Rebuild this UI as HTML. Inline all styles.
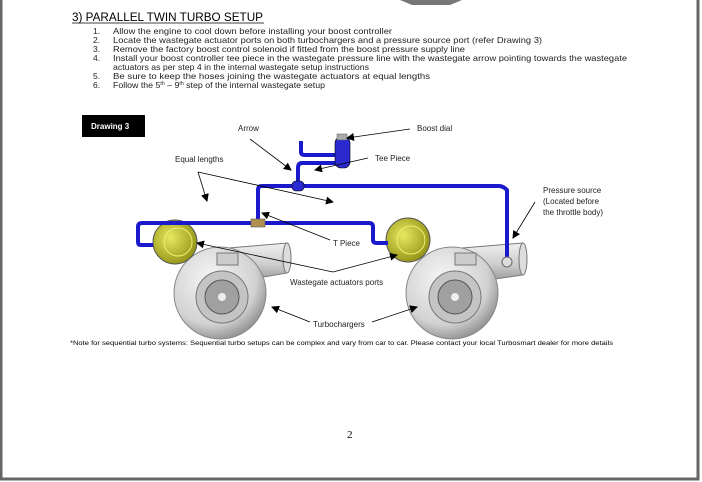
<!DOCTYPE html>
<html><head><meta charset="utf-8"><style>
html,body{margin:0;padding:0;background:#fff;}
svg{display:block;font-family:"Liberation Sans",sans-serif;}
</style></head><body>
<svg width="702" height="482" viewBox="0 0 702 482" xmlns="http://www.w3.org/2000/svg">
<defs>
<radialGradient id="g" cx="0.4" cy="0.35" r="0.7"><stop offset="0" stop-color="#f6f6f6"/><stop offset="0.7" stop-color="#d2d2d2"/><stop offset="1" stop-color="#8a8a8a"/></radialGradient>
<linearGradient id="p" x1="0" y1="0" x2="0" y2="1"><stop offset="0" stop-color="#f0f0f0"/><stop offset="0.5" stop-color="#cdcdcd"/><stop offset="1" stop-color="#8a8a8a"/></linearGradient>
<radialGradient id="y" cx="0.4" cy="0.4" r="0.7"><stop offset="0" stop-color="#e8e860"/><stop offset="1" stop-color="#8a8a10"/></radialGradient>
<marker id="a" markerWidth="8" markerHeight="8" refX="7" refY="4" orient="auto" markerUnits="userSpaceOnUse"><path d="M0,0 L8,4 L0,8 z" fill="#000"/></marker>
</defs>
<rect x="1" y="-5" width="697" height="484" fill="none" stroke="#666" stroke-width="3"/>
<path d="M400,0 L462,0 L450,5 L412,5 z" fill="#777"/>
<text x="72" y="21" font-size="11.5" textLength="191" lengthAdjust="spacingAndGlyphs">3)  PARALLEL TWIN TURBO SETUP</text>
<line x1="72" y1="23" x2="264" y2="23" stroke="#000" stroke-width="0.8"/>
<g font-size="8.5" fill="#222">
<text x="93" y="34">1.</text><text x="113" y="34" textLength="279" lengthAdjust="spacingAndGlyphs">Allow the engine to cool down before installing your boost controller</text>
<text x="93" y="43">2.</text><text x="113" y="43" textLength="429" lengthAdjust="spacingAndGlyphs">Locate the wastegate actuator ports on both turbochargers and a pressure source port (refer Drawing 3)</text>
<text x="93" y="52">3.</text><text x="113" y="52" textLength="352" lengthAdjust="spacingAndGlyphs">Remove the factory boost control solenoid if fitted from the boost pressure supply line</text>
<text x="93" y="61">4.</text><text x="113" y="61" textLength="514" lengthAdjust="spacingAndGlyphs">Install your boost controller tee piece in the wastegate pressure line with the wastegate arrow pointing towards the wastegate</text>
<text x="113" y="70" textLength="256" lengthAdjust="spacingAndGlyphs">actuators as per step 4 in the internal wastegate setup instructions</text>
<text x="93" y="79">5.</text><text x="113" y="79" textLength="317" lengthAdjust="spacingAndGlyphs">Be sure to keep the hoses joining the wastegate actuators at equal lengths</text>
<text x="93" y="88">6.</text><text x="113" y="88" textLength="212" lengthAdjust="spacingAndGlyphs">Follow the 5<tspan font-size="5" dy="-3">th</tspan><tspan dy="3"> – 9</tspan><tspan font-size="5" dy="-3">th</tspan><tspan dy="3"> step of the internal wastegate setup</tspan></text>
</g>
<rect x="82" y="115" width="63" height="22" fill="#000"/>
<text x="91" y="129" font-size="8" fill="#fff" font-weight="bold">Drawing 3</text>
<path d="M205,250 L287,243 L287,273 L210,286 z" fill="url(#p)" stroke="#777"/>
<ellipse cx="287" cy="258" rx="4" ry="15" fill="#ddd" stroke="#777"/>
<circle cx="220" cy="293" r="46" fill="url(#g)" stroke="#888"/>
<rect x="217" y="253" width="21" height="12" fill="#ccc" stroke="#777"/>
<circle cx="222" cy="297" r="26" fill="#c4c4c4" stroke="#777"/>
<circle cx="222" cy="297" r="17" fill="#a0a0a0" stroke="#555"/>
<circle cx="222" cy="297" r="4" fill="#eee"/>
<path d="M438,250 L523,243 L523,275 L445,286 z" fill="url(#p)" stroke="#777"/>
<ellipse cx="523" cy="259" rx="4" ry="16" fill="#ddd" stroke="#777"/>
<circle cx="452" cy="293" r="46" fill="url(#g)" stroke="#888"/>
<rect x="455" y="253" width="21" height="12" fill="#ccc" stroke="#777"/>
<circle cx="455" cy="297" r="26" fill="#c4c4c4" stroke="#777"/>
<circle cx="455" cy="297" r="17" fill="#a0a0a0" stroke="#555"/>
<circle cx="455" cy="297" r="4" fill="#eee"/>
<circle cx="175" cy="242" r="22" fill="url(#y)" stroke="#555"/>
<circle cx="178" cy="242" r="14" fill="none" stroke="#eeee70"/>
<circle cx="408" cy="240" r="22" fill="url(#y)" stroke="#555"/>
<circle cx="411" cy="240" r="14" fill="none" stroke="#eeee70"/>
<g fill="none" stroke="#1a1acc" stroke-width="4" stroke-linejoin="round">
<path d="M153,245 H141 Q138,245 138,242 V227 Q138,223 142,223 H369 Q373,223 373,227 V240 Q373,243 377,243 H388"/>
<path d="M258,223 V190 Q258,186 262,186 H499 Q503,186 507,190 V262"/>
<path d="M298,186 V168 Q298,163 302,163 H336"/>
<path d="M301,141 V152 Q301,155 305,155 H336"/>
</g>
<circle cx="507" cy="262" r="5" fill="#ddd" stroke="#666"/>
<rect x="292" y="181" width="12" height="10" rx="4" fill="#2a2ad0" stroke="#000" stroke-width="0.6"/>
<rect x="251" y="219" width="14" height="8" fill="#b09050" stroke="#555" stroke-width="0.6"/>
<rect x="335" y="137" width="15" height="31" rx="6" fill="#2a2ad0" stroke="#000" stroke-width="0.6"/>
<rect x="337" y="134" width="10" height="6" fill="#aaa" stroke="#555" stroke-width="0.5"/>
<g font-size="8" fill="#222">
<text x="238" y="131">Arrow</text>
<text x="417" y="131">Boost dial</text>
<text x="375" y="161">Tee Piece</text>
<text x="175" y="162">Equal lengths</text>
<text x="543" y="193">Pressure source</text>
<text x="543" y="204">(Located before</text>
<text x="543" y="215">the throttle body)</text>
<text x="333" y="246">T Piece</text>
<text x="290" y="285">Wastegate actuators ports</text>
<text x="313" y="327">Turbochargers</text>
</g>
<text x="70" y="345" font-size="6.5" textLength="543" lengthAdjust="spacingAndGlyphs">*Note for sequential turbo systems: Sequential turbo setups can be complex and vary from car to car. Please contact your local Turbosmart dealer for more details</text>
<text x="347" y="438" font-size="11" font-family="Liberation Serif">2</text>
<g stroke="#000" stroke-width="0.8" marker-end="url(#a)">
<line x1="410" y1="129" x2="347" y2="138"/>
<line x1="368" y1="158" x2="315" y2="170"/>
<line x1="250" y1="139" x2="291" y2="170"/>
<line x1="198" y1="172" x2="207" y2="201"/>
<line x1="198" y1="172" x2="333" y2="202"/>
<line x1="330" y1="240" x2="262" y2="213"/>
<line x1="535" y1="202" x2="513" y2="238"/>
<line x1="333" y1="272" x2="197" y2="243"/>
<line x1="333" y1="272" x2="397" y2="255"/>
<line x1="310" y1="322" x2="272" y2="307"/>
<line x1="372" y1="322" x2="417" y2="307"/>
</g>
</svg>
</body></html>
